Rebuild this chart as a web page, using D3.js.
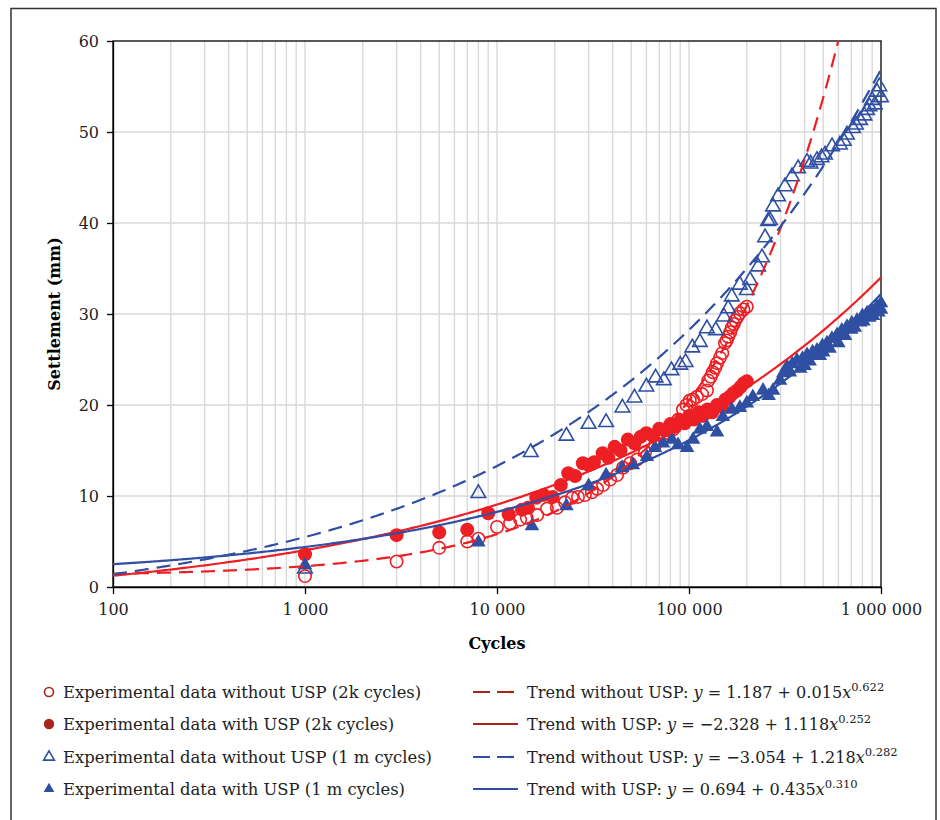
<!DOCTYPE html>
<html>
<head>
<meta charset="utf-8">
<script src="https://cdn.jsdelivr.net/npm/d3@7"></script>
<style>
	body { margin: 0; background: #fff; }
	svg { font-family: "DejaVu Serif", serif; }
</style>
</head>
<body>
<svg id="chart" width="940" height="820"></svg>
<script>
// ---- data ----
var xTicks = [100, 1000, 10000, 100000, 1000000];
var xTickLabels = ["100", "1 000", "10 000", "100 000", "1 000 000"];
var yTicks = [0, 10, 20, 30, 40, 50, 60];

// open red circles: without USP (2k cycles)
var noUsp2kCycles = [1000, 3000, 5000, 7000, 8000, 10000, 11700, 13200, 14300, 16200, 18200, 20500, 22600, 24600, 26400, 28700, 31200, 33200, 35700, 38800, 42200, 45300, 49300, 53600, 59000, 66500, 73000, 78000, 82600, 88000, 93000, 97000, 101000, 105000, 110000, 117000, 124000, 126000, 130000, 133000, 137000, 140000, 145000, 149000, 154000, 157000, 160000, 164000, 167000, 171000, 174000, 179000, 184000, 192000, 200000];
var noUsp2kSettle = [1.2, 2.8, 4.3, 5.0, 5.3, 6.6, 7.0, 7.4, 7.6, 7.9, 8.6, 8.7, 9.3, 9.8, 9.9, 10.1, 10.4, 10.8, 11.2, 11.8, 12.3, 13.1, 13.6, 14.0, 14.8, 15.6, 16.5, 16.9, 17.3, 18.4, 19.5, 20.0, 20.5, 20.6, 20.9, 21.2, 21.6, 22.7, 23.1, 23.6, 24.1, 24.6, 25.2, 25.7, 26.8, 27.1, 27.5, 28.0, 28.5, 28.9, 29.3, 29.7, 30.1, 30.5, 30.8];

// filled red circles: with USP (2k cycles)
var usp2kCycles = [1000, 3000, 5000, 7000, 9000, 11500, 13500, 14500, 16000, 17500, 19500, 21500, 23500, 25500, 28000, 30000, 32000, 35500, 38000, 41000, 44000, 48000, 52000, 56000, 60000, 65000, 70000, 75000, 80000, 85000, 90000, 95000, 100000, 106000, 112000, 118000, 125000, 132000, 140000, 148000, 155000, 163000, 170000, 178000, 186000, 193000, 200000];
var usp2kSettle = [3.6, 5.7, 6.0, 6.3, 8.1, 8.0, 8.5, 8.7, 9.8, 10.1, 9.9, 11.2, 12.5, 12.2, 13.6, 13.4, 13.7, 14.7, 14.2, 15.4, 15.0, 16.2, 15.8, 16.5, 16.9, 16.6, 17.4, 17.2, 17.9, 17.6, 18.3, 18.0, 18.8, 18.4, 19.2, 18.8, 19.5, 19.2, 20.0, 19.8, 20.6, 20.9, 21.3, 21.6, 22.0, 22.4, 22.6];

// open blue triangles: without USP (1 m cycles)
var noUsp1mCycles = [1000, 8000, 15000, 23000, 30000, 37000, 45000, 52000, 60000, 67000, 74000, 81000, 90000, 96000, 104000, 114000, 124000, 138000, 152000, 160000, 167000, 184000, 200000, 208000, 229000, 240000, 249000, 258000, 264000, 274000, 291000, 316000, 344000, 370000, 412000, 430000, 464000, 490000, 511000, 556000, 611000, 640000, 665000, 715000, 740000, 778000, 820000, 846000, 870000, 898000, 930000, 953000, 980000, 1000000];
var noUsp1mSettle = [2.0, 10.3, 14.8, 16.6, 17.9, 18.1, 19.7, 20.8, 22.0, 23.0, 22.7, 23.8, 24.4, 24.7, 26.3, 26.9, 28.4, 28.2, 29.7, 30.6, 31.9, 33.2, 32.6, 33.7, 35.2, 36.2, 38.4, 40.2, 40.3, 41.8, 42.9, 44.0, 45.1, 46.0, 46.7, 46.5, 46.9, 47.2, 47.5, 48.4, 48.6, 49.0, 49.7, 50.4, 50.8, 51.3, 51.8, 52.4, 52.8, 53.5, 53.0, 54.4, 55.0, 53.8];

// filled blue triangles: with USP (1 m cycles)
var usp1mCycles = [1000, 8000, 15200, 23000, 30000, 37000, 44800, 51000, 60400, 66500, 73200, 81500, 87700, 97700, 105000, 114000, 124000, 140000, 150000, 167000, 184000, 200000, 215000, 243000, 260000, 274000, 298000, 310000, 324000, 335000, 345000, 365000, 380000, 390000, 400000, 412000, 425000, 440000, 464000, 480000, 495000, 500000, 523000, 540000, 555000, 590000, 600000, 625000, 650000, 665000, 700000, 705000, 730000, 750000, 780000, 800000, 810000, 846000, 870000, 900000, 910000, 953000, 970000, 1000000, 1000000];
var usp1mSettle = [2.4, 4.9, 6.7, 8.9, 11.1, 12.3, 13.1, 13.4, 14.3, 15.3, 15.8, 16.2, 15.6, 15.3, 16.2, 17.3, 17.6, 17.0, 18.7, 19.5, 19.7, 20.2, 20.9, 21.6, 21.0, 21.6, 22.7, 23.5, 24.2, 23.6, 24.5, 24.9, 24.0, 25.1, 24.3, 25.5, 24.8, 25.8, 26.0, 25.4, 26.5, 25.8, 26.8, 26.2, 27.3, 27.7, 26.8, 28.2, 27.6, 28.6, 28.3, 29.0, 28.5, 29.3, 29.1, 29.8, 29.2, 30.1, 29.6, 30.4, 29.8, 30.8, 30.2, 31.2, 30.5];

// trend equations y = a + b * x^c (from the legend)
var trendNames = ["Trend without USP:", "Trend with USP:", "Trend without USP:", "Trend with USP:"];
var trendA = [1.187, -2.328, -3.054, 0.694];
var trendB = [0.015, 1.118, 1.218, 0.435];
var trendC = [0.622, 0.252, 0.282, 0.310];
var trendA_txt = ["1.187", "\u22122.328", "\u22123.054", "0.694"];
var trendB_txt = ["0.015", "1.118", "1.218", "0.435"];
var trendC_txt = ["0.622", "0.252", "0.282", "0.310"];

var legendLabels = [
	"Experimental data without USP (2k cycles)",
	"Experimental data with USP (2k cycles)",
	"Experimental data without USP (1 m cycles)",
	"Experimental data with USP (1 m cycles)"
];

(function() {

	var red = "#ed1f24", blue = "#2f4fa2", legendRed = "#a8251d";

	var svg = d3.select("#chart");
	var pLeft = 113, pRight = 881, pTop = 41, pBottom = 587;

	var x = d3.scaleLog().domain([100, 1000000]).range([pLeft, pRight]);
	var y = d3.scaleLinear().domain([0, 60]).range([pBottom, pTop]);

	// outer frame
	svg.append("rect")
		.attr("x", 11).attr("y", 8.5)
		.attr("width", 925).attr("height", 840)
		.attr("fill", "none").attr("stroke", "#333").attr("stroke-width", 1.5);

	// grid
	var gridX = [];
	[100, 1000, 10000, 100000].forEach(function(d) {
		for (var k = 1; k <= 9; k++) if (d * k > 100) gridX.push(d * k);
	});
	svg.append("g").selectAll("line").data(gridX).enter().append("line")
		.attr("x1", function(d) { return x(d); }).attr("x2", function(d) { return x(d); })
		.attr("y1", pTop).attr("y2", pBottom)
		.attr("stroke", "#d9d9d9").attr("stroke-width", 1.4);
	svg.append("g").selectAll("line").data(yTicks.slice(1, -1)).enter().append("line")
		.attr("x1", pLeft).attr("x2", pRight)
		.attr("y1", function(d) { return y(d); }).attr("y2", function(d) { return y(d); })
		.attr("stroke", "#d9d9d9").attr("stroke-width", 1.4);

	// axes
	var yAxis = svg.append("g")
		.attr("transform", "translate(" + pLeft + ",0)")
		.call(d3.axisLeft(y).tickValues(yTicks).tickSize(6).tickSizeOuter(0).tickPadding(8));
	var xAxis = svg.append("g")
		.attr("transform", "translate(0," + pBottom + ")")
		.call(d3.axisBottom(x).tickValues(xTicks).tickSize(7).tickSizeOuter(0).tickPadding(10)
			.tickFormat(function(d, i) { return xTickLabels[i]; }));
	[yAxis, xAxis].forEach(function(a) {
		a.selectAll("text").attr("font-family", "DejaVu Serif").attr("font-size", 16).attr("fill", "#222");
		a.selectAll("line, path").attr("stroke", "#000").attr("stroke-width", 1.3);
	});

	// plot border
	svg.append("rect")
		.attr("x", pLeft).attr("y", pTop)
		.attr("width", pRight - pLeft).attr("height", pBottom - pTop)
		.attr("fill", "none").attr("stroke", "#000").attr("stroke-width", 1.3);

	// axis titles
	svg.append("text")
		.attr("transform", "translate(60," + ((pTop + pBottom) / 2) + ") rotate(-90)")
		.attr("text-anchor", "middle").attr("font-weight", "bold").attr("font-size", 16)
		.text("Settlement (mm)");
	svg.append("text")
		.attr("x", (pLeft + pRight) / 2).attr("y", 649)
		.attr("text-anchor", "middle").attr("font-weight", "bold").attr("font-size", 16)
		.text("Cycles");

	// markers
	var plot = svg.append("g");
	var tri = d3.symbol().type(d3.symbolTriangle).size(92);

	plot.append("g").selectAll("circle").data(noUsp2kCycles).enter().append("circle")
		.attr("cx", function(d) { return x(d); })
		.attr("cy", function(d, i) { return y(noUsp2kSettle[i]); })
		.attr("r", 6.2).attr("fill", "none").attr("stroke", red).attr("stroke-width", 1.6);

	plot.append("g").selectAll("circle").data(usp2kCycles).enter().append("circle")
		.attr("cx", function(d) { return x(d); })
		.attr("cy", function(d, i) { return y(usp2kSettle[i]); })
		.attr("r", 7).attr("fill", red);

	plot.append("g").selectAll("path").data(noUsp1mCycles).enter().append("path")
		.attr("d", tri)
		.attr("transform", function(d, i) { return "translate(" + x(d) + "," + y(noUsp1mSettle[i]) + ")"; })
		.attr("fill", "none").attr("stroke", blue).attr("stroke-width", 1.6);

	plot.append("g").selectAll("path").data(usp1mCycles).enter().append("path")
		.attr("d", tri)
		.attr("transform", function(d, i) { return "translate(" + x(d) + "," + y(usp1mSettle[i]) + ")"; })
		.attr("fill", blue);

	// trend lines
	svg.append("clipPath").attr("id", "clip").append("rect")
		.attr("x", pLeft).attr("y", pTop).attr("width", pRight - pLeft).attr("height", pBottom - pTop);
	var xs = d3.range(0, 401).map(function(i) { return 100 * Math.pow(10, i / 100); });
	var trendColor = [red, red, blue, blue];
	var trendDash = ["14,8", null, "14,8", null];
	var line = d3.line().x(function(d) { return x(d[0]); }).y(function(d) { return y(d[1]); });
	var trends = svg.append("g").attr("clip-path", "url(#clip)");
	trendA.forEach(function(a, k) {
		var pts = xs.map(function(v) { return [v, a + trendB[k] * Math.pow(v, trendC[k])]; });
		trends.append("path").attr("d", line(pts))
			.attr("fill", "none").attr("stroke", trendColor[k]).attr("stroke-width", 2.2)
			.attr("stroke-dasharray", trendDash[k]);
	});

	// legend
	var rowY = [692, 724, 757, 789];
	var lg = svg.append("g").attr("font-size", 16.4).attr("fill", "#222");
	lg.append("circle").attr("cx", 49).attr("cy", rowY[0]).attr("r", 4.5)
		.attr("fill", "none").attr("stroke", legendRed).attr("stroke-width", 1.6);
	lg.append("circle").attr("cx", 49).attr("cy", rowY[1]).attr("r", 5.2).attr("fill", legendRed);
	var triS = d3.symbol().type(d3.symbolTriangle).size(50);
	lg.append("path").attr("d", triS).attr("transform", "translate(49," + rowY[2] + ")")
		.attr("fill", "none").attr("stroke", blue).attr("stroke-width", 1.6);
	lg.append("path").attr("d", triS).attr("transform", "translate(49," + rowY[3] + ")")
		.attr("fill", blue);
	legendLabels.forEach(function(t, i) {
		lg.append("text").attr("x", 63).attr("y", rowY[i] + 6).text(t);
	});

	var legendLineColor = [legendRed, legendRed, blue, blue];
	trendNames.forEach(function(name, k) {
		lg.append("line").attr("x1", 473).attr("x2", 518)
			.attr("y1", rowY[k]).attr("y2", rowY[k])
			.attr("stroke", legendLineColor[k]).attr("stroke-width", 2.2)
			.attr("stroke-dasharray", trendDash[k] ? "17,7" : null);
		var t = lg.append("text").attr("x", 527).attr("y", rowY[k] + 6).attr("font-size", 16.1);
		t.append("tspan").text(name + " ");
		t.append("tspan").attr("font-style", "italic").text("y");
		t.append("tspan").text(" = " + trendA_txt[k] + " + " + trendB_txt[k]);
		t.append("tspan").attr("font-style", "italic").text("x");
		t.append("tspan").attr("dy", -7).attr("font-size", 11.5).text(trendC_txt[k]);
	});

})();
</script>
</body>
</html>
